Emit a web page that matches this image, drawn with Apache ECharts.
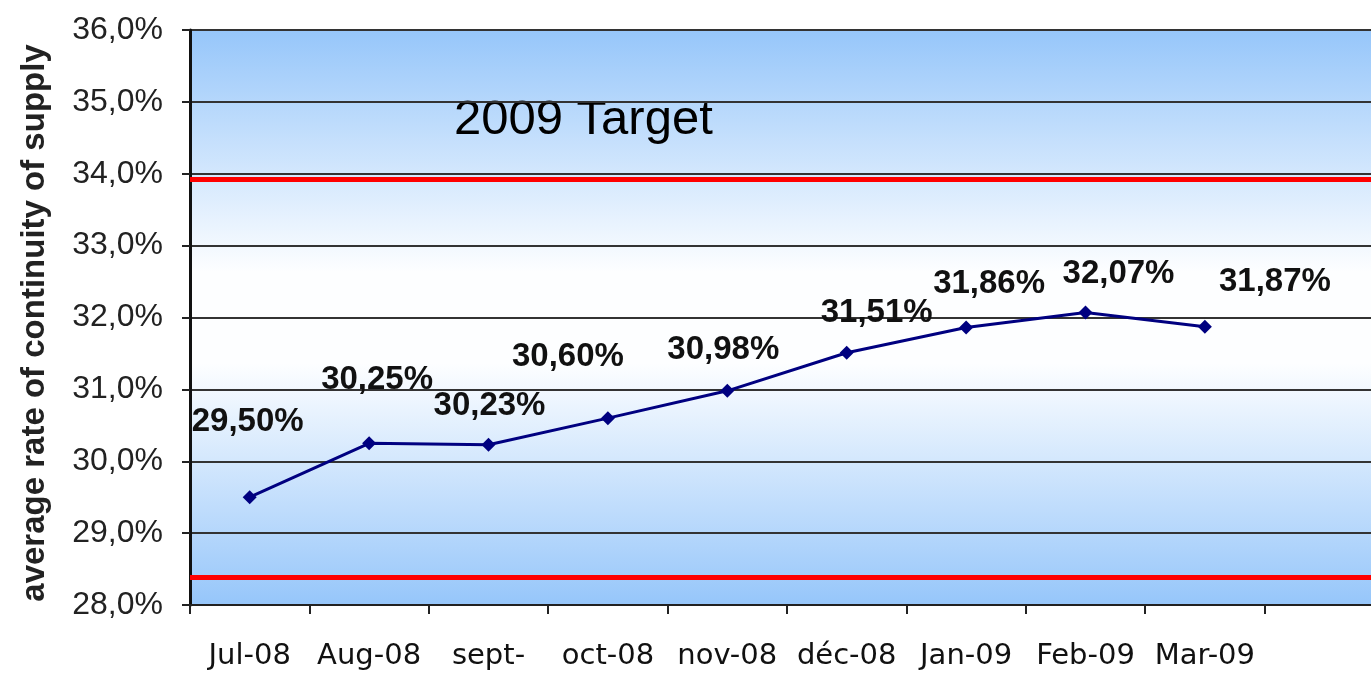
<!DOCTYPE html>
<html>
<head>
<meta charset="utf-8">
<script src="https://cdn.jsdelivr.net/npm/echarts@6/dist/echarts.min.js"></script>
<style>
  html, body { margin: 0; padding: 0; background: #fff; }
  #chart { width: 1371px; height: 674px; }
</style>
</head>
<body>
<div id="chart"></div>
<script>
// months on the x axis (last slot is empty, cut off at the right)
var months = ['Jul-08', 'Aug-08', 'sept-', 'oct-08', 'nov-08', 'déc-08', 'Jan-09', 'Feb-09', 'Mar-09', ''];
// average rate of continuity of supply, in %
var rates = [29.50, 30.25, 30.23, 30.60, 30.98, 31.51, 31.86, 32.07, 31.87];
// the two red reference lines
var targetLevel = 33.93;
var lowerLevel = 28.38;
// y axis range
var yMin = 28, yMax = 36, yStep = 1;

// where each value label sits relative to its point (layout only)
var labelOffsets = [[-2, -75], [8, -63], [1, -39], [-40, -61], [-4, -41], [30, -40], [23, -44], [33, -39], [70, -45]];

function pct(v, d) {
    return v.toFixed(d).replace('.', ',') + '%';
}

var chart = echarts.init(document.getElementById('chart'));

var option = {
    animation: false,
    backgroundColor: '#ffffff',
    grid: {
        left: 190,
        right: -13,
        top: 30,
        bottom: 69,
        containLabel: false,
        outerBoundsMode: 'none',
        show: true,
        borderWidth: 0,
        backgroundColor: new echarts.graphic.LinearGradient(0, 0, 0, 1, [
            { offset: 0, color: '#96c6fa' },
            { offset: 0.42, color: '#fdfeff' },
            { offset: 0.58, color: '#fdfeff' },
            { offset: 1, color: '#96c6fa' }
        ])
    },
    xAxis: {
        type: 'category',
        data: months,
        boundaryGap: true,
        axisLine: { lineStyle: { color: '#222', width: 2 } },
        axisTick: { show: true, length: 9, interval: 0, lineStyle: { color: '#222', width: 2 } },
        axisLabel: {
            interval: 0,
            margin: 37,
            fontFamily: 'DejaVu Sans',
            fontSize: 29,
            color: '#111'
        },
        splitLine: { show: false }
    },
    yAxis: {
        type: 'value',
        min: yMin,
        max: yMax,
        interval: yStep,
        axisLine: { show: true, lineStyle: { color: '#111', width: 3 } },
        axisTick: { show: true, length: 8, lineStyle: { color: '#222', width: 2 } },
        axisLabel: {
            margin: 27,
            fontFamily: 'Liberation Sans',
            fontSize: 32,
            color: '#222',
            formatter: function (v) { return pct(v, 1); }
        },
        splitLine: { show: true, lineStyle: { color: '#333', width: 2 } }
    },
    graphic: [{
        type: 'text',
        x: 35,
        y: 323,
        rotation: Math.PI / 2,
        style: {
            text: 'average rate of continuity of supply',
            fontFamily: 'Liberation Sans',
            fontWeight: 'bold',
            fontSize: 33,
            fill: '#222',
            align: 'center',
            verticalAlign: 'middle'
        }
    }, {
        type: 'text',
        left: 454,
        top: 96,
        style: {
            text: '2009 Target',
            fontFamily: 'Liberation Sans',
            fontSize: 49,
            fill: '#000'
        }
    }],
    series: [{
        type: 'line',
        data: rates.map(function (v, i) {
            return {
                value: v,
                label: { offset: labelOffsets[i] }
            };
        }),
        symbol: 'diamond',
        symbolSize: 14,
        lineStyle: { color: '#000080', width: 3 },
        itemStyle: { color: '#000080' },
        label: {
            show: true,
            position: 'inside',
            fontFamily: 'Liberation Sans',
            fontWeight: 'bold',
            fontSize: 33,
            color: '#111',
            formatter: function (p) { return pct(p.value, 2); }
        },
        markLine: {
            silent: true,
            symbol: 'none',
            label: { show: false },
            lineStyle: { color: '#ff0000', width: 5, type: 'solid' },
            data: [{ yAxis: targetLevel }, { yAxis: lowerLevel }]
        },
        z: 3
    }]
};

chart.setOption(option);
</script>
</body>
</html>
